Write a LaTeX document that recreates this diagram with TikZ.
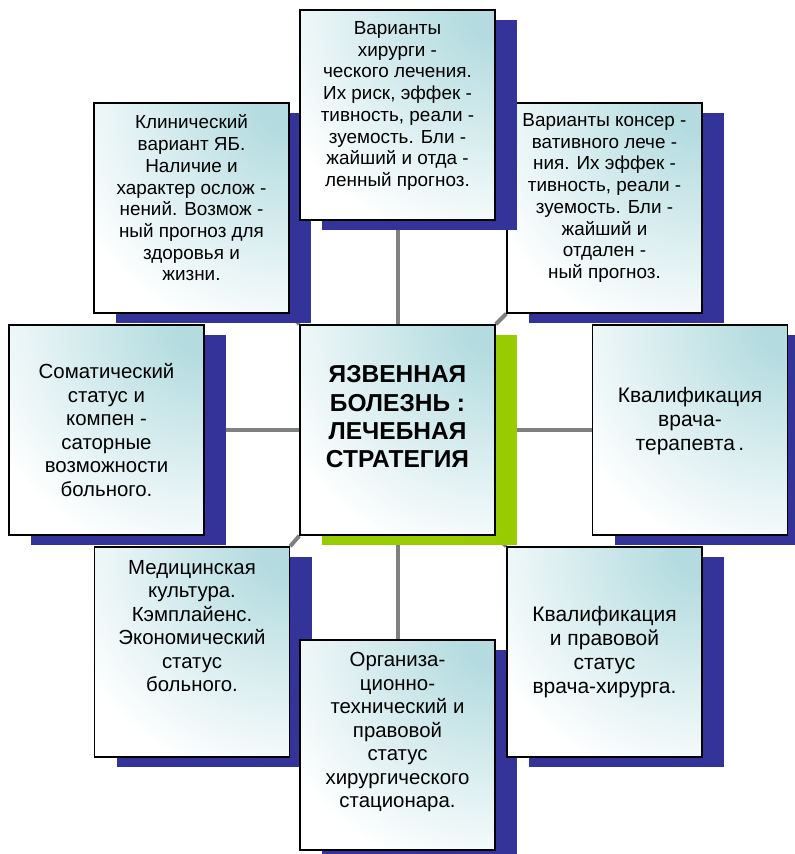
\documentclass[tikz,border=0pt]{standalone}
\usepackage{fontspec}
\setmainfont{Liberation Sans}
\usetikzlibrary{shadows,backgrounds}
\definecolor{shadowblue}{RGB}{51,51,153}
\definecolor{shadowgreen}{RGB}{153,204,0}
\definecolor{facecyan}{RGB}{180,220,224}
\definecolor{linkgray}{RGB}{128,128,128}
\pgfdeclareradialshading{cornerglow}{\pgfpoint{0bp}{0bp}}{%
  color(0bp)=(facecyan); color(3bp)=(facecyan);
  color(24bp)=(white); color(50bp)=(white)}
\tikzset{
  facebox/.style={draw=black, line width=1.5pt, fill=white, minimum width=195pt,
    minimum height=210pt, inner sep=0pt,
    % glow from the upper right corner
    path picture={\shade[shading=cornerglow]
      (path picture bounding box.north east) circle (250pt);}},
  factor/.style={facebox, drop shadow={shadow xshift=22pt,
    shadow yshift=-10pt, fill=shadowblue, opacity=1}},
  core/.style={facebox, drop shadow={shadow xshift=22pt,
    shadow yshift=-10pt, fill=shadowgreen, opacity=1}},
  txtS/.style={align=center, font=\fontsize{18.9pt}{21.7pt}\selectfont},
  txtM/.style={align=center, font=\fontsize{20.4pt}{23.5pt}\selectfont},
  txtL/.style={align=center, font=\fontsize{21pt}{24.2pt}\selectfont},
  title/.style={align=center, font=\fontsize{24.5pt}{28.3pt}\selectfont\bfseries},
  link/.style={line width=4pt, linkgray}
}
\begin{document}
\begin{tikzpicture}[x=1pt,y=-1pt]
  \useasboundingbox (0,0) rectangle (795,854);
  % boxes, in stacking order
  \node[factor] (tl) at (191.5,208) {};
  \node[factor] (tr) at (604.5,208) {};
  \node[factor] (t) at (397.5,115) {};
  \node[factor] (l) at (106.5,430) {};
  \node[core] (c) at (397.5,430) {};
  \node[factor] (r) at (690,430) {};
  \node[factor] (bl) at (192,652) {};
  \node[factor] (b) at (397.5,745) {};
  \node[factor] (br) at (604.5,652) {};
  % texts
  \node[txtS] (t-txt) at ([yshift=9pt]t.center) {Варианты\\хирурги -\\ческого лечения.\\Их риск, эффек -\\тивность, реали -\\зуемость. Бли -\\жайший и отда -\\ленный прогноз.};
  \node[txtS] (tl-txt) at ([yshift=10pt]tl.center) {Клинический\\вариант ЯБ.\\Наличие и\\характер ослож -\\нений. Возмож -\\ный прогноз для\\здоровья и\\жизни.};
  \node[txtS] (tr-txt) at ([yshift=10pt]tr.center) {Варианты консер -\\вативного лече -\\ния. Их эффек -\\тивность, реали -\\зуемость. Бли -\\жайший и\\отдален -\\ный прогноз.};
  \node[txtM] (l-txt) at (l.center) {Соматический\\статус и\\компен -\\саторные\\возможности\\больного.};
  \node[title] (c-txt) at ([yshift=13pt]c.center) {ЯЗВЕННАЯ\\БОЛЕЗНЬ :\\ЛЕЧЕБНАЯ\\СТРАТЕГИЯ};
  \node[txtL] (r-txt) at ([yshift=9pt]r.center) {Квалификация\\врача-\\терапевта\,.};
  \node[txtM] (bl-txt) at ([yshift=26pt]bl.center) {Медицинская\\культура.\\Кэмплайенс.\\Экономический\\статус\\больного.};
  \node[txtL] (br-txt) at (br.center) {Квалификация\\и правовой\\статус\\врача-хирурга.};
  \node[txtM] (b-txt) at ([yshift=13pt]b.center) {Организа-\\ционно-\\технический и\\правовой\\статус\\хирургического\\стационара.};
  % connectors behind everything
  \begin{scope}[on background layer]
    \draw[link] (c.north) -- (t.south);
    \draw[link] (c.south) -- (b.north);
    \draw[link] (c.west) -- (l.east);
    \draw[link] (c.east) -- (r.west);
    \draw[link] (c.north west) -- (tl.south east);
    \draw[link] (c.north east) -- (tr.south west);
    \draw[link] (c.south west) -- (bl.north east);
    \draw[link] (c.south east) -- (br.north west);
  \end{scope}
\end{tikzpicture}
\end{document}
